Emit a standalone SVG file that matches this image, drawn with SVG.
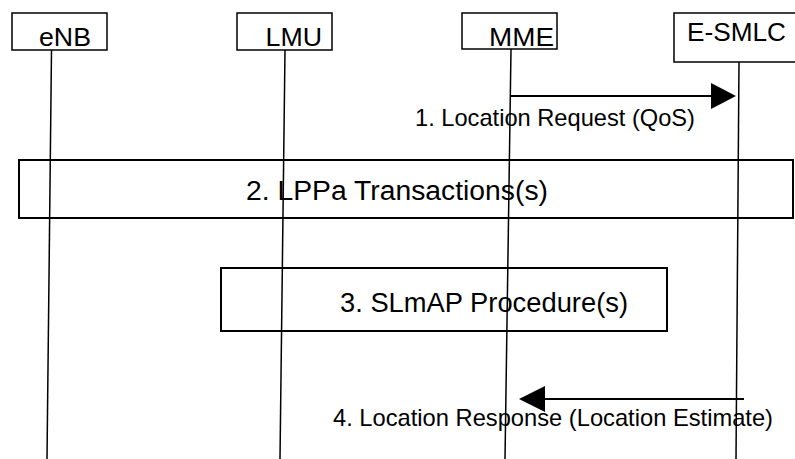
<svg xmlns="http://www.w3.org/2000/svg" width="795" height="459" viewBox="0 0 795 459">
<style>
.box{fill:#fff;stroke:#000;stroke-width:1.5}
.frame{fill:none;stroke:#000;stroke-width:2}
.life{stroke:#000;stroke-width:1.5;fill:none}
.msg{stroke:#000;stroke-width:2;fill:none}
.head{fill:#000;stroke:none}
text{font-family:"Liberation Sans",Arial,sans-serif;fill:#000}
.n{font-size:25px}
.m{font-size:24px}
.p{font-size:27px}
</style>
<rect width="795" height="459" fill="#fff"/>
<g id="frames">
<g id="lppa">
<rect class="frame" x="19" y="160" width="774" height="58"/>
<text class="p" x="246" y="200" textLength="302" lengthAdjust="spacingAndGlyphs">2. LPPa Transactions(s)</text>
</g>
<g id="slmap">
<rect class="frame" x="221" y="268" width="446" height="63"/>
<text class="p" x="340" y="312" textLength="288" lengthAdjust="spacingAndGlyphs">3. SLmAP Procedure(s)</text>
</g>
</g>
<g id="enb">
<rect class="box" x="12" y="13" width="95" height="37"/>
<text class="n" x="39" y="46" textLength="52" lengthAdjust="spacingAndGlyphs">eNB</text>
</g>
<g id="lmu">
<rect class="box" x="237" y="13" width="95" height="37"/>
<text class="n" x="265.5" y="46" textLength="56.5" lengthAdjust="spacingAndGlyphs">LMU</text>
</g>
<g id="mme">
<rect class="box" x="462" y="13" width="95" height="36"/>
<text class="n" x="489" y="46" textLength="65" lengthAdjust="spacingAndGlyphs">MME</text>
</g>
<g id="esmlc">
<rect class="box" x="674" y="13" width="122" height="49"/>
<text class="n" x="687" y="41" textLength="99" lengthAdjust="spacingAndGlyphs">E-SMLC</text>
</g>
<g id="connectors">
<line class="life" x1="51.5" y1="50" x2="47" y2="459"/>
<line class="life" x1="285" y1="50" x2="280" y2="459"/>
<line class="life" x1="511" y1="49" x2="505" y2="459"/>
<line class="life" x1="739" y1="62" x2="736" y2="459"/>
<line class="msg" x1="510" y1="96" x2="712" y2="96"/>
<polygon class="head" points="736,96 711,83 711,109"/>
<text class="m" x="415" y="125.5" textLength="280" lengthAdjust="spacingAndGlyphs">1. Location Request (QoS)</text>
<line class="msg" x1="744" y1="399" x2="544" y2="399"/>
<polygon class="head" points="519,399 545,386 545,412"/>
<text class="m" x="333" y="426" textLength="440" lengthAdjust="spacingAndGlyphs">4. Location Response (Location Estimate)</text>
</g>
</svg>
